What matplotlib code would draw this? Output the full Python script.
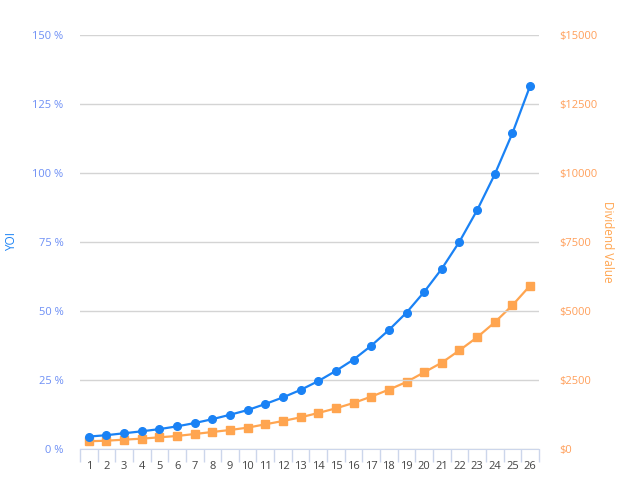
import numpy as np
import matplotlib.pyplot as plt
from matplotlib.ticker import FuncFormatter, FixedLocator

plt.rcParams['font.family'] = ['Open Sans', 'DejaVu Sans']

# data
years = list(range(1, 27))
yoi = [4.5, 5.0, 5.7, 6.4, 7.2, 8.2, 9.4, 10.8, 12.4, 14.1, 16.3, 18.7, 21.4,
       24.6, 28.3, 32.4, 37.4, 43.1, 49.4, 56.9, 65.3, 75.1, 86.5, 99.5, 114.4, 131.5]
dividend = [280, 300, 338, 374, 423, 471, 543, 616, 688, 773, 894, 1014, 1147,
            1304, 1473, 1667, 1896, 2150, 2428, 2778, 3128, 3574, 4046, 4589, 5205, 5918]

blue = '#1a82f5'
orange = '#ffa550'
blue_lbl = '#6d8ff5'
orange_lbl = '#ff9f5a'

fig = plt.figure(figsize=(6.4, 4.82), dpi=100)
ax = fig.add_axes([0.125, 0.0685, 0.717, 0.859])
ax2 = ax.twinx()

x = np.arange(len(years))
ax.plot(x, yoi, color=blue, lw=1.6, marker='o', ms=5.5, zorder=4)
ax2.plot(x, dividend, color=orange, lw=1.6, marker='s', ms=5.5, zorder=3)
ax.set_zorder(ax2.get_zorder() + 1)
ax.patch.set_visible(False)

ax.set_xlim(-0.5, len(years) - 0.5)
ax.set_ylim(0, 150)
ax2.set_ylim(0, 15000)

ax.set_yticks([0, 25, 50, 75, 100, 125, 150])
ax.yaxis.set_major_formatter(FuncFormatter(lambda v, p: '%d %%' % v))
ax2.set_yticks([0, 2500, 5000, 7500, 10000, 12500, 15000])
ax2.yaxis.set_major_formatter(FuncFormatter(lambda v, p: '$%d' % v))

ax.grid(axis='y', color='#d4d4d4', lw=1)
ax.set_xticks(x)
ax.set_xticklabels([str(y) for y in years])
ax.xaxis.set_minor_locator(FixedLocator(np.arange(-0.5, len(years), 1.0)))
ax.tick_params(axis='x', which='major', length=0, pad=9, labelsize=8, labelcolor='#444444')
ax.tick_params(axis='x', which='minor', length=9, width=1, color='#ccd6eb')
ax.tick_params(axis='y', length=0, pad=12, labelsize=8, labelcolor=blue_lbl)
ax2.tick_params(axis='y', length=0, pad=15, labelsize=8, labelcolor=orange_lbl)

for a in (ax, ax2):
    for s in a.spines.values():
        s.set_visible(False)
ax.spines['bottom'].set_visible(True)
ax.spines['bottom'].set_color('#ccd6eb')

ax.set_ylabel('YOI', color=blue, fontsize=8.5)
ax.yaxis.set_label_coords(-0.135, 0.5)
ax2.set_ylabel('Dividend Value', color=orange, fontsize=8.5, rotation=-90, va='center')
ax2.yaxis.set_label_coords(1.150, 0.5)

fig.savefig('out.png', dpi=100)
